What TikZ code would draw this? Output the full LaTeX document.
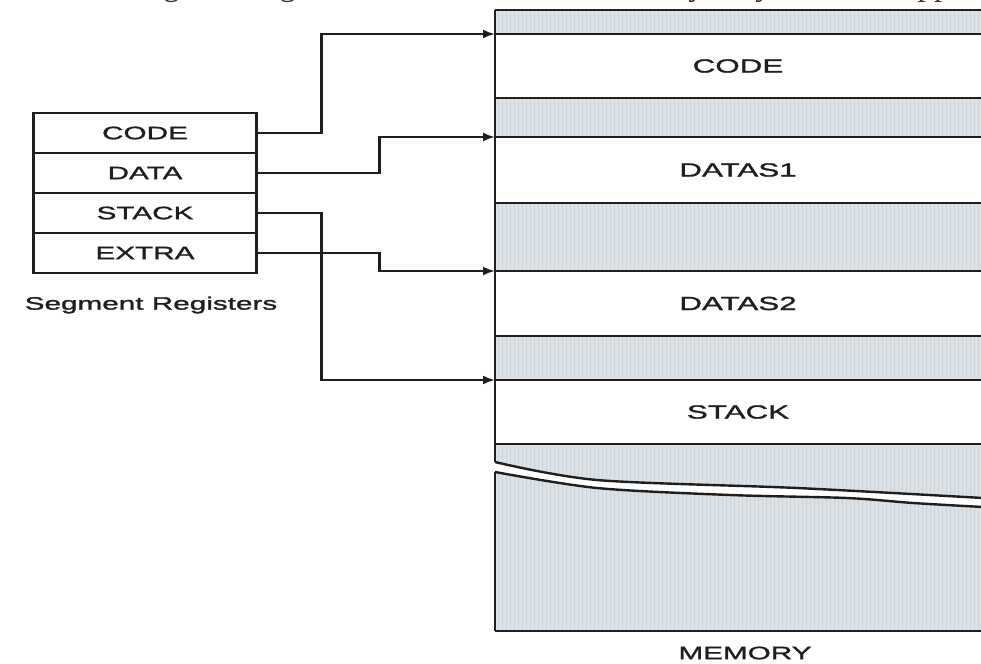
\documentclass[tikz,border=0pt]{standalone}
\usepackage{fontspec}
\setmainfont{Liberation Sans}
\newfontfamily\widesans[FakeStretch=1.65,FakeBold=1.5]{Liberation Sans}
\newfontfamily\pageserif{Liberation Serif}
\usetikzlibrary{arrows.meta}
\definecolor{ink}{HTML}{1E1E1E}
\definecolor{shadeclr}{HTML}{DCE2E6}
\definecolor{streak}{HTML}{CDD4D9}
\begin{document}
\begin{tikzpicture}[x=1pt,y=-1pt,
  every node/.style={inner sep=0pt, outer sep=0pt},
  reg/.style={draw=ink, line width=2.4pt, minimum width=223pt, minimum height=40pt,
    font=\widesans\fontsize{18}{20}\selectfont, text=ink},
  seg/.style={minimum width=486pt, anchor=north west,
    font=\widesans\fontsize{19}{21}\selectfont, text=ink},
  gapband/.style={seg, fill=shadeclr},
  rule/.style={draw=ink, line width=2.4pt},
  conn/.style={draw=ink, line width=2.2pt, -{Latex[length=12pt,width=9pt]}},
  caption/.style={font=\widesans\fontsize{18}{20}\selectfont, text=ink}
]
\useasboundingbox (0,0) rectangle (981,663);
\clip (0,0) rectangle (981,663);

% page text fragment at the top
\node[anchor=base west, font=\pageserif\fontsize{33}{35}\selectfont, text=black!80] (pagetext)
  at (-31,-4) {Because the segment registers cannot store 20 bits, they only store the upper 16 bits};

% memory bands
\node[gapband, minimum height=24pt] (g0) at (495,10) {};
\node[seg, minimum height=64pt] (mcode) at (495,34) {CODE};
\node[gapband, minimum height=39pt] (g1) at (495,98) {};
\node[seg, minimum height=66pt] (mdata1) at (495,137) {DATAS1};
\node[gapband, minimum height=68pt] (g2) at (495,203) {};
\node[seg, minimum height=65pt] (mdata2) at (495,271) {DATAS2};
\node[gapband, minimum height=44pt] (g3) at (495,336) {};
\node[seg, minimum height=64pt] (mstack) at (495,380) {STACK};
\node[gapband, minimum height=187pt] (g4) at (495,444) {};

% streak texture in shaded bands
\begin{scope}
  \clip (g0.north west) rectangle (g0.south east)
        (g1.north west) rectangle (g1.south east)
        (g2.north west) rectangle (g2.south east)
        (g3.north west) rectangle (g3.south east)
        (g4.north west) rectangle (g4.south east);
  \foreach \x in {498,502,...,982} \draw[streak, line width=0.7pt] (\x,0) -- (\x,663);
\end{scope}

% break in the bottom band
\fill[white] plot[smooth] coordinates {(493,462) (597,480) (797,488) (983,498)}
  -- plot[smooth] coordinates {(983,507) (913,503) (847,498) (730,495) (597,488) (493,472)} -- cycle;
\draw[rule] plot[smooth] coordinates {(495,462) (597,480) (797,488) (983,498)};
\draw[rule] plot[smooth] coordinates {(495,472) (597,488) (730,495) (847,498) (913,503) (983,507)};

% horizontal rules and left border
\foreach \n in {g0,mcode,g1,mdata1,g2,mdata2,g3,mstack,g4}
  \draw[rule] (\n.north west) -- (\n.north east);
\draw[rule] (g4.south west) -- (g4.south east);
\draw[rule] (g0.north west) -- (495,462);
\draw[rule] (495,472) -- (g4.south west);

% segment registers
\node[reg] (rcode) at (145,133) {CODE};
\node[reg] (rdata) at (145,173) {DATA};
\node[reg] (rstack) at (145,213) {STACK};
\node[reg] (rextra) at (145,253) {EXTRA};
\node[caption] (segcap) at (151,305) {Segment Registers};
\node[caption] (memcap) at (745,653) {MEMORY};

% connectors
\draw[conn] (rcode.east) -- ++(65,0) |- (mcode.north west);
\draw[conn] (rdata.east) -- ++(123,0) |- (mdata1.north west);
\draw[conn] (rstack.east) -- ++(65,0) |- (mstack.north west);
\draw[conn] (rextra.east) -- ++(123,0) |- (mdata2.north west);
\end{tikzpicture}
\end{document}
